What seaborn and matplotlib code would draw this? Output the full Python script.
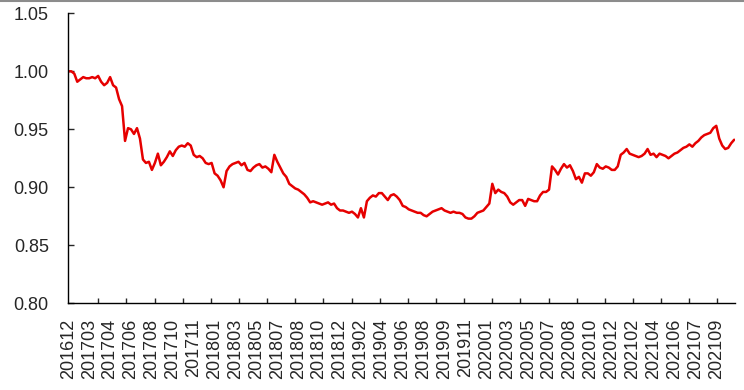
import numpy as np
import pandas as pd
import matplotlib
matplotlib.use("Agg")
import matplotlib.pyplot as plt
from matplotlib.lines import Line2D
from matplotlib.ticker import FixedLocator
import seaborn as sns

# valores (una muestra cada ~3 px)
valores = [
    1.000, 1.000, 0.998, 0.991, 0.993, 0.995, 0.994, 0.994, 0.995, 0.994,
    0.996, 0.991, 0.988, 0.990, 0.995, 0.988, 0.986, 0.976, 0.970, 0.940,
    0.951, 0.950, 0.946, 0.951, 0.942, 0.924, 0.921, 0.922, 0.915, 0.921,
    0.929, 0.919, 0.922, 0.926, 0.931, 0.927, 0.932, 0.935, 0.936, 0.935,
    0.938, 0.936, 0.928, 0.926, 0.927, 0.925, 0.921, 0.920, 0.921, 0.912,
    0.910, 0.906, 0.900, 0.914, 0.918, 0.920, 0.921, 0.922, 0.919, 0.921,
    0.915, 0.914, 0.917, 0.919, 0.920, 0.917, 0.918, 0.916, 0.913, 0.928,
    0.922, 0.917, 0.912, 0.909, 0.903, 0.901, 0.899, 0.898, 0.896, 0.894,
    0.891, 0.887, 0.888, 0.887, 0.886, 0.885, 0.886, 0.887, 0.885, 0.886,
    0.882, 0.880, 0.880, 0.879, 0.878, 0.879, 0.877, 0.874, 0.882, 0.874,
    0.888, 0.891, 0.893, 0.892, 0.895, 0.895, 0.892, 0.889, 0.893, 0.894,
    0.892, 0.889, 0.884, 0.883, 0.881, 0.880, 0.879, 0.878, 0.878, 0.876,
    0.875, 0.877, 0.879, 0.880, 0.881, 0.882, 0.880, 0.879, 0.878, 0.879,
    0.878, 0.878, 0.877, 0.874, 0.873, 0.873, 0.875, 0.878, 0.879, 0.880,
    0.883, 0.886, 0.903, 0.895, 0.898, 0.896, 0.895, 0.892, 0.887, 0.885,
    0.887, 0.889, 0.889, 0.884, 0.890, 0.889, 0.888, 0.888, 0.893, 0.896,
    0.896, 0.898, 0.918, 0.915, 0.911, 0.916, 0.920, 0.917, 0.919, 0.914,
    0.907, 0.909, 0.904, 0.912, 0.912, 0.910, 0.913, 0.920, 0.917, 0.916,
    0.918, 0.917, 0.915, 0.915, 0.918, 0.928, 0.930, 0.933, 0.929, 0.928,
    0.927, 0.926, 0.927, 0.929, 0.933, 0.928, 0.929, 0.926, 0.929, 0.928,
    0.927, 0.925, 0.927, 0.929, 0.930, 0.932, 0.934, 0.935, 0.937, 0.935,
    0.938, 0.940, 0.943, 0.945, 0.946, 0.947, 0.951, 0.953, 0.942, 0.936,
    0.933, 0.934, 0.938, 0.941,
]

etiquetas = [
    "201612", "201703", "201704", "201706", "201708", "201710", "201711",
    "201801", "201803", "201805", "201807", "201808", "201810", "201812",
    "201902", "201904", "201906", "201908", "201909", "201911", "202001",
    "202003", "202005", "202007", "202008", "202010", "202012", "202102",
    "202104", "202106", "202107", "202109",
]
paso_etiqueta = 7

datos = pd.DataFrame({"idx": np.arange(len(valores)), "valor": valores})

sns.set_style("ticks")
plt.rcParams["font.family"] = ["Liberation Sans", "DejaVu Sans"]

fig = plt.figure(figsize=(7.44, 3.9), dpi=100)
ax = fig.add_axes([0.0918, 0.2223, 0.8962, 0.7436])

sns.lineplot(data=datos, x="idx", y="valor", ax=ax, color="#E60000", linewidth=1.8)

ax.set_xlim(0, len(valores) - 0.7)
ax.set_ylim(0.80, 1.05)
ax.set_yticks([0.80, 0.85, 0.90, 0.95, 1.00, 1.05])
ax.set_yticklabels([f"{v:.2f}" for v in [0.80, 0.85, 0.90, 0.95, 1.00, 1.05]])

# etiquetas cada 7 puntos, marcas cada ~9.4 puntos (como en Excel)
ax.set_xticks(np.arange(len(etiquetas)) * paso_etiqueta)
ax.set_xticklabels(etiquetas, rotation=90)
ax.xaxis.set_minor_locator(FixedLocator(10.05 + np.arange(23) * 9.424))
ax.tick_params(axis="x", which="major", length=0, pad=11, labelsize=13)
ax.tick_params(axis="x", which="minor", direction="in", length=3.5, width=1.0)
ax.tick_params(axis="y", direction="in", length=4, width=1.0, pad=14, labelsize=13)

ax.set_xlabel("")
ax.set_ylabel("")
sns.despine(ax=ax)
for s in ["left", "bottom"]:
    ax.spines[s].set_linewidth(1.0)
    ax.spines[s].set_color("black")

# borde gris superior
fig.add_artist(Line2D([0, 1], [0.998, 0.998], transform=fig.transFigure,
                      color="#8c8c8c", linewidth=1.5))

fig.savefig("out.png", dpi=100)
